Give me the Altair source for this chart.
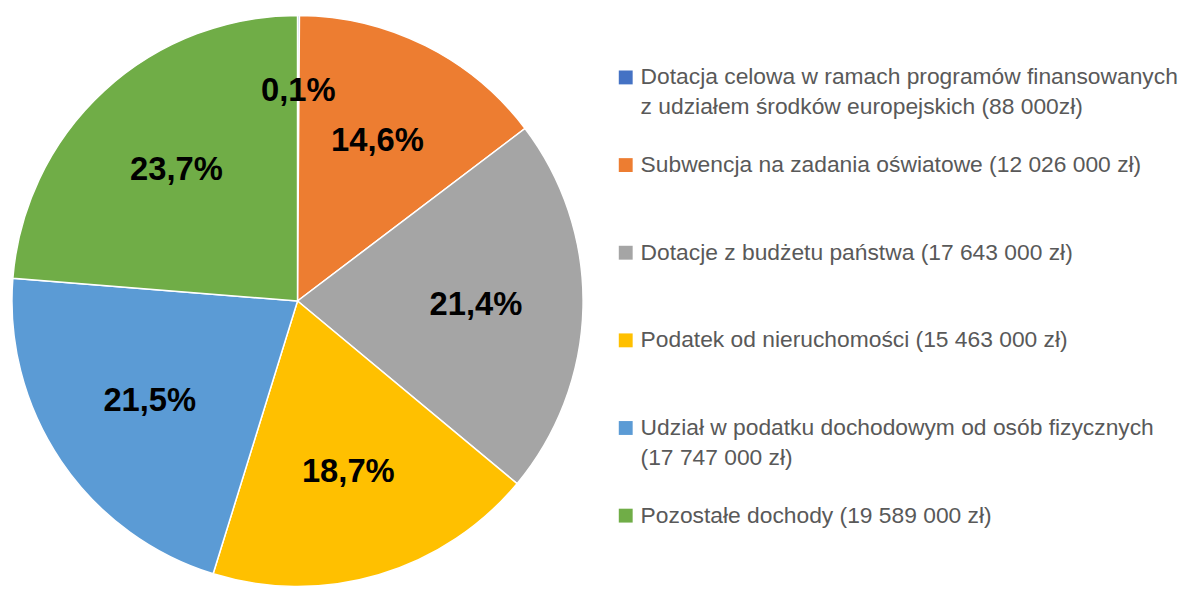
import altair as alt
import pandas as pd

names = [
    "Dotacja celowa",
    "Subwencja",
    "Dotacje z budżetu państwa",
    "Podatek od nieruchomości",
    "Udział w podatku",
    "Pozostałe dochody",
]
legend_labels = [
    "Dotacja celowa w ramach programów finansowanych\nz udziałem środków europejskich (88 000zł)",
    "Subwencja na zadania oświatowe (12 026 000 zł)",
    "Dotacje z budżetu państwa (17 643 000 zł)",
    "Podatek od nieruchomości (15 463 000 zł)",
    "Udział w podatku dochodowym od osób fizycznych\n(17 747 000 zł)",
    "Pozostałe dochody (19 589 000 zł)",
]
values = [88000, 12026000, 17643000, 15463000, 17747000, 19589000]
colors = ["#4472C4", "#ED7D31", "#A5A5A5", "#FFC000", "#5B9BD5", "#70AD47"]

total = sum(values)
share = [v / total for v in values]
pct = [f"{s * 100:.1f}".replace(".", ",") + "%" for s in share]

df = pd.DataFrame({
    "idx": list(range(len(names))),
    "name": names,
    "value": values,
    "share": share,
    "pct": pct,
    "legend": legend_labels,
})

color_scale = alt.Scale(domain=names, range=colors)

base = alt.Chart(df).encode(
    theta=alt.Theta("value:Q", stack=True),
    order=alt.Order("idx:Q"),
)
arcs = base.mark_arc(outerRadius=288, stroke="white", strokeWidth=1.5).encode(
    color=alt.Color("name:N", scale=color_scale, legend=None)
)
label_style = dict(font="Liberation Sans", fontSize=33, fontWeight="bold", color="black")
labels_big = base.mark_text(radius=180, **label_style).encode(
    text=alt.condition("datum.share >= 0.01", alt.Text("pct:N"), alt.value(""))
)
labels_small = base.mark_text(radius=212, **label_style).encode(
    text=alt.condition("datum.share < 0.01", alt.Text("pct:N"), alt.value(""))
)
pie = (arcs + labels_big + labels_small).properties(width=584, height=586)

lbase = alt.Chart(df).encode(
    y=alt.Y("idx:O", scale=alt.Scale(type="point", padding=0.764), axis=None)
)
squares = lbase.mark_square(size=196, opacity=1, x=7).encode(
    color=alt.Color("name:N", scale=color_scale, legend=None)
)
texts = lbase.mark_text(
    align="left", baseline="line-top", lineHeight=30, dy=-15, x=22,
    lineBreak="\n", font="Liberation Sans", fontSize=23, color="#595959"
).encode(text="legend:N")
legend = (squares + texts).properties(width=560, height=577)

chart = alt.hconcat(pie, legend, spacing=32).properties(padding=0).configure_view(stroke=None)

chart.save("out.html", embed_options={"renderer": "svg", "actions": False})
